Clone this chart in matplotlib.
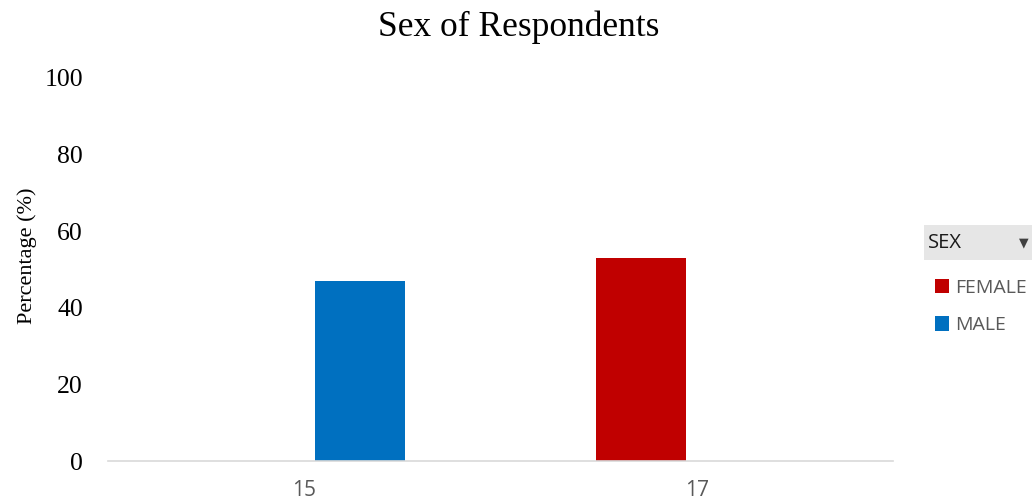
import matplotlib
matplotlib.use("Agg")
import matplotlib.pyplot as plt
import numpy as np
from matplotlib.patches import Rectangle, Patch

categories = ["15", "17"]
series_names = ["FEMALE", "MALE"]
female_pct = [0, 53]
male_pct = [47, 0]
y_ticks = [0, 20, 40, 60, 80, 100]

colors = {"FEMALE": "#c00000", "MALE": "#0070c0"}

fig = plt.figure(figsize=(10.32, 5.01), dpi=100)
ax = fig.add_axes([108 / 1032, 1 - 461 / 501, 785 / 1032, (461 - 78) / 501])

x = np.arange(len(categories))
width = 0.227
offset = 0.142
ax.bar(x - offset, female_pct, width, color=colors["FEMALE"], label="FEMALE")
ax.bar(x + offset, male_pct, width, color=colors["MALE"], label="MALE")

ax.set_xlim(-0.5, len(categories) - 0.5)
ax.set_ylim(0, 100)
ax.set_yticks(y_ticks)
ax.set_yticklabels([str(t) for t in y_ticks], family="Liberation Serif", fontsize=18.5)
ax.set_xticks(x)
ax.set_xticklabels(categories, family="Open Sans", fontsize=15, color="#595959")
ax.tick_params(axis="both", length=0)
ax.tick_params(axis="y", pad=18)
ax.tick_params(axis="x", pad=14)

for side in ["top", "right", "left"]:
    ax.spines[side].set_visible(False)
ax.spines["bottom"].set_color("#d9d9d9")
ax.spines["bottom"].set_linewidth(1.2)

ax.set_ylabel("Percentage (%)", family="Liberation Serif", fontsize=16)
ax.yaxis.set_label_coords(-0.091, 0.535)
fig.text(0.503, 0.945, "Sex of Respondents", family="Liberation Serif",
         fontsize=25.5, ha="center", va="center")

# pivot-style field header above the legend
fig.patches.append(Rectangle((924 / 1032, 1 - 260 / 501), 108 / 1032, 35 / 501,
                             transform=fig.transFigure, facecolor="#e6e6e6",
                             edgecolor="none"))
fig.text(928 / 1032, 1 - 243 / 501, "SEX", family="Open Sans", fontsize=14.5,
         color="#1a1a1a", va="center")
fig.text(1024 / 1032, 1 - 243 / 501, "\u25bc", family="DejaVu Sans", fontsize=9,
         color="#404040", va="center", ha="center")

handles = [Patch(facecolor=colors[n], label=n) for n in series_names]
fig.legend(handles=handles, loc="upper left", bbox_to_anchor=(925 / 1032, 1 - 269 / 501),
           frameon=False, prop={"family": "Open Sans", "size": 14},
           labelcolor="#595959", handlelength=0.75, handleheight=0.75,
           handletextpad=0.3, labelspacing=1.0, borderpad=0)

fig.savefig("out.png", dpi=100)
